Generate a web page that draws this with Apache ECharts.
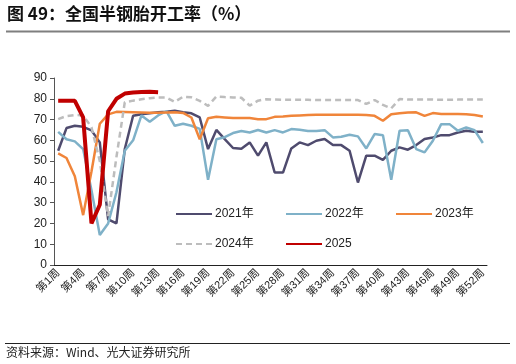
<!DOCTYPE html>
<html><head><meta charset="utf-8">
<script src="https://cdn.jsdelivr.net/npm/echarts@6/dist/echarts.min.js"></script>
<style>html,body{margin:0;padding:0;background:#fff}#c{width:516px;height:364px}</style>
</head><body><div id="c"></div>
<script>
const weeks = Array.from({length:52},(_,i)=>'第'+(i+1)+'周');
const yTicks = [0,10,20,30,40,50,60,70,80,90];
const s2021 = [55,65.9,67,66.5,64.8,59,22,20,55.8,71.8,72.6,73,73.5,73.8,74.3,73.5,73,71,55.8,65,60.6,56.3,56,59,52.6,59,44.5,44.5,56.1,59,57.7,59.8,60.6,57.7,57.7,55,39.7,52.6,52.6,50.6,55,56.6,55.5,57.7,60.6,61.4,62.5,62.5,63.8,64.6,64.1,64.1];
const s2022 = [64.1,60.5,59.5,55.8,36,14.4,20,35,55,60,72,69,72,74,67,68,67,65.5,41,60.5,61.5,63.5,64.5,63.8,65,63.8,64.9,63.8,65.4,65.1,64.5,64.5,64.9,61.4,61.7,62.7,61.9,56.1,63,62.5,41,64.6,64.9,55.8,54.2,59.8,67.8,67.8,64.6,66.2,64.9,58.7];
const s2023 = [53.7,51.5,42.7,24,45,68,72.5,73.7,73.6,73.5,73.4,73.3,73.3,73.4,73.5,73.2,71,60.5,70.6,71.3,71,70.7,70.8,70.7,70.2,70.2,71.3,71.5,71.8,72,72.2,72.3,72.3,72.3,72.3,72.3,72.3,72.2,71.8,69.4,72.6,73,73.4,73.5,71.8,73.1,72.7,72.7,72.7,72.6,72.2,71.5];
const s2024 = [70.2,71.7,72.2,72,66.3,50,23.5,52,78.3,79.1,79.8,80.3,80.6,80.6,78.5,81,80.7,79,76.6,81.1,80.8,80.6,80.5,76.7,79.1,79.8,79.6,79.5,79.5,79.5,79.5,79.4,79.4,79.4,79.4,79.4,79.4,77.5,79.4,77.1,75.4,79.9,79.6,79.6,79.6,79.6,79.5,79.5,79.6,79.6,79.6,79.6];
const s2025 = [79,79,79,71,20,29,74,80,82.5,83,83.3,83.4,83.2];
const names = ['2021年','2022年','2023年','2024年','2025'];

const font = '"Liberation Sans","Noto Sans CJK SC",sans-serif';
const chart = echarts.init(document.getElementById('c'));
function lg(name, left, top){
  return {data:[name], left:left, top:top, itemWidth:36, itemHeight:12, itemGap:0,
    itemStyle:{opacity:0},
    textStyle:{fontSize:12, color:'#222', fontFamily:font, padding:[0,0,0,-2]}};
}
chart.setOption({
  animation:false,
  backgroundColor:'#fff',
  grid:{left:54, right:29, top:78, bottom:99, containLabel:false},
  legend:[lg(names[0],170,203), lg(names[1],280,203), lg(names[2],390,203), lg(names[3],170,233), lg(names[4],280,233)],
  xAxis:{type:'category', data:weeks, boundaryGap:true,
    axisLine:{lineStyle:{color:'#222', width:1}},
    axisTick:{interval:2, length:4, lineStyle:{color:'#444'}},
    axisLabel:{interval:2, rotate:45, fontSize:11, color:'#222', fontFamily:font, margin:6}},
  yAxis:{type:'value', min:yTicks[0], max:yTicks[yTicks.length-1], interval:10,
    splitLine:{show:false},
    axisLine:{show:true, lineStyle:{color:'#555'}},
    axisTick:{show:true, length:4, lineStyle:{color:'#555'}},
    axisLabel:{fontSize:12, color:'#222', fontFamily:font, margin:7}},
  series:[
    {name:names[0], type:'line', data:s2021, symbol:'none', lineStyle:{color:'#4f4b6e', width:2.5}, itemStyle:{color:'#4f4b6e'}},
    {name:names[1], type:'line', data:s2022, symbol:'none', lineStyle:{color:'#7fb1c8', width:2.5}, itemStyle:{color:'#7fb1c8'}},
    {name:names[2], type:'line', data:s2023, symbol:'none', lineStyle:{color:'#f0853a', width:2.5}, itemStyle:{color:'#f0853a'}},
    {name:names[3], type:'line', data:s2024, symbol:'none', lineStyle:{color:'#bdbdbd', width:2.5, type:[6,4]}, itemStyle:{color:'#bdbdbd'}},
    {name:names[4], type:'line', data:s2025, symbol:'none', lineStyle:{color:'#c00000', width:4}, itemStyle:{color:'#c00000'}}
  ],
  graphic:[
    {type:'text', left:7, top:5, style:{text:'图 49：全国半钢胎开工率（%）', font:'bold 17px "Noto Sans CJK SC",sans-serif', fill:'#111'}},
    {type:'line', shape:{x1:6,y1:31.5,x2:510,y2:31.5}, style:{stroke:'#7f7f7f', lineWidth:2}},
    {type:'line', shape:{x1:5,y1:343.5,x2:510,y2:343.5}, style:{stroke:'#222', lineWidth:1}},
    {type:'text', left:6, top:346, style:{text:'资料来源：Wind、光大证券研究所', font:'12px "Noto Sans CJK SC",sans-serif', fill:'#222'}}
  ]
});
</script></body></html>
